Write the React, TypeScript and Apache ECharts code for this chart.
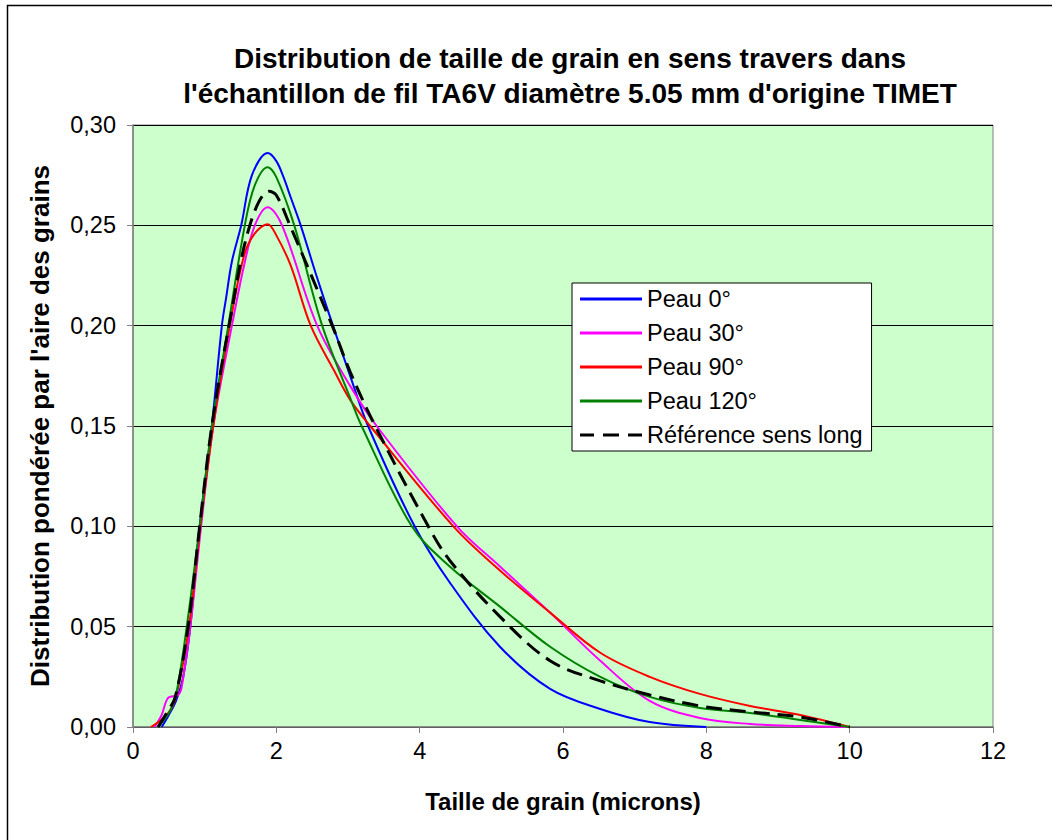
import React, { useEffect, useRef } from "react";
import * as echarts from "echarts";

const FONT = "'Liberation Sans', Arial, sans-serif";

const titleLines = [
  "Distribution de taille de grain en sens travers dans",
  "l'échantillon de fil TA6V diamètre 5.05 mm d'origine TIMET",
];
const xAxisName = "Taille de grain (microns)";
const yAxisName = "Distribution pondérée par l'aire des grains";

const seriesNames = ["Peau 0°", "Peau 30°", "Peau 90°", "Peau 120°", "Référence sens long"];

const peau0: number[][] = [
  [0.4, 0], [0.5, 0.006], [0.6, 0.013], [0.7, 0.025], [0.8, 0.05], [0.93, 0.1], [1.1, 0.15],
  [1.24, 0.2], [1.3, 0.214], [1.38, 0.232], [1.51, 0.25], [1.66, 0.275], [1.88, 0.286],
  [2.0, 0.282], [2.1, 0.274], [2.2, 0.264], [2.34, 0.25], [2.55, 0.226], [2.79, 0.2],
  [3.03, 0.175], [3.28, 0.15], [3.93, 0.1], [4.42, 0.072], [5.12, 0.04], [5.82, 0.019],
  [6.52, 0.009], [7.21, 0.0025], [8.0, 0],
];
const peau30: number[][] = [
  [0.3, 0], [0.4, 0.006], [0.49, 0.0145], [0.63, 0.016], [0.68, 0.02], [0.8, 0.05],
  [0.95, 0.1], [1.12, 0.15], [1.38, 0.2], [1.55, 0.23], [1.7, 0.25], [1.88, 0.259],
  [2.08, 0.25], [2.57, 0.2], [3.03, 0.17], [3.4, 0.15], [4.52, 0.1], [5.12, 0.08],
  [5.82, 0.057], [6.52, 0.033], [7.21, 0.013], [7.91, 0.0045], [8.61, 0.0015],
  [9.31, 0.0005], [10, 0],
];
const peau90: number[][] = [
  [0.25, 0], [0.47, 0.006], [0.6, 0.015], [0.78, 0.05], [0.94, 0.1], [1.12, 0.15],
  [1.35, 0.2], [1.55, 0.235], [1.7, 0.246], [1.88, 0.2506], [2.0, 0.245], [2.2, 0.23],
  [2.48, 0.2], [2.8, 0.178], [3.03, 0.163], [3.31, 0.15], [4.47, 0.1], [5.12, 0.078],
  [5.82, 0.057], [6.52, 0.037], [7.21, 0.025], [7.91, 0.0165], [8.61, 0.0105],
  [9.31, 0.006], [10, 0],
];
const peau120: number[][] = [
  [0.35, 0], [0.5, 0.007], [0.6, 0.016], [0.75, 0.05], [0.93, 0.1], [1.1, 0.15],
  [1.33, 0.2], [1.56, 0.25], [1.7, 0.27], [1.88, 0.279], [2.0, 0.274], [2.25, 0.25],
  [2.64, 0.2], [3.03, 0.164], [3.19, 0.15], [3.89, 0.1], [4.42, 0.08], [5.12, 0.06],
  [5.82, 0.04], [6.52, 0.025], [7.21, 0.015], [7.91, 0.0095], [8.61, 0.007],
  [9.31, 0.0035], [10, 0],
];
const referenceLong: number[][] = [
  [0.35, 0], [0.47, 0.007], [0.59, 0.015], [0.77, 0.05], [0.93, 0.1], [1.1, 0.15],
  [1.34, 0.2], [1.63, 0.25], [1.9, 0.267], [2.0, 0.265], [2.19, 0.25], [2.78, 0.2],
  [3.03, 0.177], [3.38, 0.15], [4.12, 0.1], [4.42, 0.083], [5.12, 0.055], [5.82, 0.033],
  [6.52, 0.023], [7.21, 0.016], [7.91, 0.0105], [8.61, 0.0075], [9.31, 0.005], [10, 0],
];

const seriesData = [peau0, peau30, peau90, peau120, referenceLong];
const seriesColors = ["#0000FF", "#FF00FF", "#FF0000", "#008000", "#000000"];

const solidIcon = "path://M0,0h62v2h-62z";
const dashedIcon = "path://M0,0h14v3h-14z M23,0h16v3h-16z M48,0h14v3h-14z";

export default function App() {
  const ref = useRef<HTMLDivElement>(null);
  useEffect(() => {
    if (!ref.current) return;
    const chart = echarts.init(ref.current, undefined, { renderer: "svg" });
    chart.setOption({
      animation: false,
      backgroundColor: "#FFFFFF",
      textStyle: { fontFamily: FONT },
      graphic: [
        {
          type: "rect",
          shape: { x: 7.5, y: 5.5, width: 1200, height: 1000 },
          style: { fill: "none", stroke: "#000", lineWidth: 1.5 },
          silent: true,
        },
        {
          type: "text",
          x: 570,
          y: 58,
          style: {
            text: titleLines[0],
            font: `bold 28px ${FONT}`,
            fill: "#000",
            textAlign: "center",
            textVerticalAlign: "middle",
          },
        },
        {
          type: "text",
          x: 570,
          y: 93,
          style: {
            text: titleLines[1],
            font: `bold 28px ${FONT}`,
            fill: "#000",
            textAlign: "center",
            textVerticalAlign: "middle",
          },
        },
      ],
      grid: {
        left: 133,
        right: 59,
        top: 125,
        bottom: 113,
        show: true,
        backgroundColor: "#CCFFCC",
        borderColor: "#808080",
        borderWidth: 1,
      },
      legend: {
        orient: "vertical",
        left: 572,
        top: 283,
        padding: [4, 9, 4, 8],
        itemWidth: 62,
        itemHeight: 3,
        itemGap: 10,
        symbolKeepAspect: false,
        backgroundColor: "#FFFFFF",
        borderColor: "#000",
        borderWidth: 1,
        textStyle: { fontSize: 23.5, color: "#000", fontFamily: FONT, lineHeight: 24 },
        data: seriesNames.map((n, i) => ({
          name: n,
          icon: i === 4 ? dashedIcon : solidIcon,
          itemStyle: { color: seriesColors[i] },
        })),
      },
      xAxis: {
        type: "value",
        min: 0,
        max: 12,
        interval: 2,
        name: xAxisName,
        nameLocation: "middle",
        nameGap: 62,
        nameTextStyle: { fontSize: 24, fontWeight: "bold", color: "#000", fontFamily: FONT },
        axisLine: { show: true, lineStyle: { color: "#808080", width: 1.5 } },
        axisTick: { show: true, inside: false, length: 6, lineStyle: { color: "#808080" } },
        axisLabel: { fontSize: 23.5, color: "#000", margin: 12, fontFamily: FONT },
        splitLine: { show: false },
      },
      yAxis: {
        type: "value",
        min: 0,
        max: 0.3,
        interval: 0.05,
        name: yAxisName,
        nameLocation: "middle",
        nameRotate: 90,
        nameGap: 80,
        nameTextStyle: { fontSize: 26, fontWeight: "bold", color: "#000", fontFamily: FONT },
        axisLine: { show: true, lineStyle: { color: "#808080", width: 1.5 } },
        axisTick: { show: true, inside: false, length: 6, lineStyle: { color: "#808080" } },
        axisLabel: {
          fontSize: 23.5,
          color: "#000",
          margin: 17,
          fontFamily: FONT,
          formatter: (v: number) => v.toFixed(2).replace(".", ","),
        },
        splitLine: { show: true, lineStyle: { color: "#000", width: 1 } },
      },
      series: seriesData.map((d, i) => ({
        name: seriesNames[i],
        type: "line",
        data: d,
        showSymbol: false,
        symbol: "none",
        smooth: 0.35,
        color: seriesColors[i],
        lineStyle: {
          color: seriesColors[i],
          width: i === 4 ? 3 : 2,
          type: i === 4 ? [16, 8] : "solid",
        },
        z: i === 4 ? 5 : 3,
      })),
    });
    return () => chart.dispose();
  }, []);
  return (
    <div
      ref={ref}
      style={{ position: "fixed", left: 0, top: 0, width: 1052, height: 840 }}
    />
  );
}
